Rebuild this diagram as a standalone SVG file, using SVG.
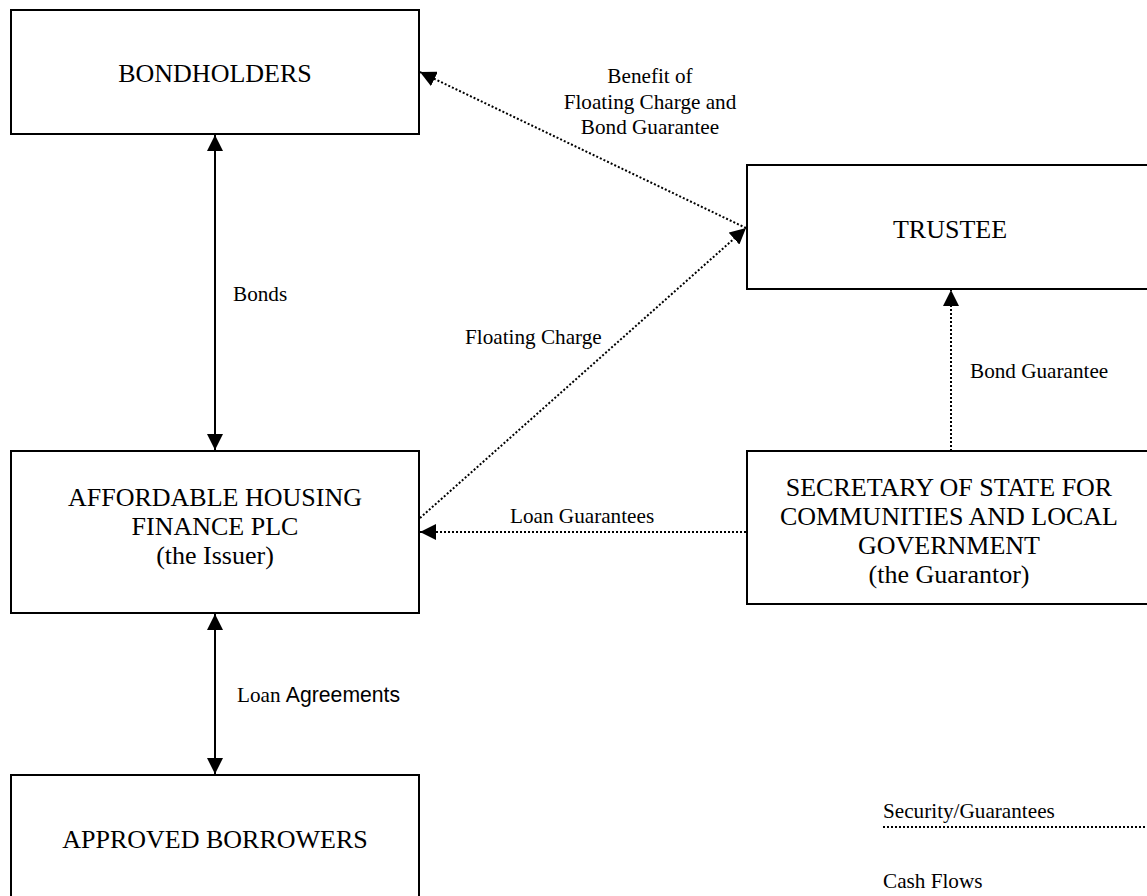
<svg xmlns="http://www.w3.org/2000/svg" width="1147" height="896" viewBox="0 0 1147 896">
<style>
.box{fill:#fff;stroke:#000;stroke-width:2}
.t{font-family:"Liberation Serif","Times New Roman",serif;font-size:26px;fill:#000;text-anchor:middle}
.l{font-family:"Liberation Serif","Times New Roman",serif;font-size:21.2px;fill:#000}
.sans{font-family:"Liberation Sans",Arial,sans-serif}
.solid{fill:none;stroke:#000;stroke-width:2}
.dot{fill:none;stroke:#000;stroke-width:2;stroke-dasharray:2 2}
</style>
<defs>
<marker id="ah" markerUnits="userSpaceOnUse" markerWidth="16" markerHeight="16" refX="15" refY="7.5" orient="auto-start-reverse" viewBox="0 0 15 15">
<path d="M0,0 L15,7.5 L0,15 z" fill="#000"/>
</marker>
</defs>
<rect width="1147" height="896" fill="#fff"/>
<g id="bondholders">
<rect class="box" x="11" y="10" width="408" height="124"/>
<text class="t" x="215" y="82">BONDHOLDERS</text>
</g>
<g id="trustee">
<rect class="box" x="747" y="165" width="404" height="124"/>
<text class="t" x="950" y="238">TRUSTEE</text>
</g>
<g id="issuer">
<rect class="box" x="11" y="451" width="408" height="162"/>
<text class="t" x="215" y="506">AFFORDABLE HOUSING</text>
<text class="t" x="215" y="535">FINANCE PLC</text>
<text class="t" x="215" y="564">(the Issuer)</text>
</g>
<g id="guarantor">
<rect class="box" x="747" y="451" width="404" height="153"/>
<text class="t" x="949" y="496">SECRETARY OF STATE FOR</text>
<text class="t" x="949" y="525">COMMUNITIES AND LOCAL</text>
<text class="t" x="949" y="554">GOVERNMENT</text>
<text class="t" x="949" y="583">(the Guarantor)</text>
</g>
<g id="borrowers">
<rect class="box" x="11" y="775" width="408" height="140"/>
<text class="t" x="215" y="848">APPROVED BORROWERS</text>
</g>
<g id="connectors">
<line class="solid" x1="215" y1="135" x2="215" y2="450" marker-start="url(#ah)" marker-end="url(#ah)"/>
<line class="solid" x1="215" y1="614" x2="215" y2="774" marker-start="url(#ah)" marker-end="url(#ah)"/>
<line class="dot" x1="746" y1="228" x2="420" y2="72" marker-end="url(#ah)"/>
<line class="dot" x1="420" y1="518" x2="746" y2="228" marker-end="url(#ah)"/>
<line class="dot" x1="746" y1="532" x2="420" y2="532" marker-end="url(#ah)"/>
<line class="dot" x1="951" y1="451" x2="951" y2="290" marker-end="url(#ah)"/>
<text class="l" x="650" y="83" text-anchor="middle">Benefit of</text>
<text class="l" x="650" y="109" text-anchor="middle">Floating Charge and</text>
<text class="l" x="650" y="134" text-anchor="middle">Bond Guarantee</text>
<text class="l" x="233" y="301">Bonds</text>
<text class="l" x="465" y="344">Floating Charge</text>
<text class="l" x="510" y="523">Loan Guarantees</text>
<text class="l" x="970" y="378">Bond Guarantee</text>
<text class="l" x="237" y="702">Loan <tspan class="sans">Agreements</tspan></text>
</g>
<g id="legend">
<text class="l" x="883" y="818">Security/Guarantees</text>
<line class="dot" x1="883" y1="827" x2="1147" y2="827"/>
<text class="l" x="883" y="888">Cash Flows</text>
</g>
</svg>
